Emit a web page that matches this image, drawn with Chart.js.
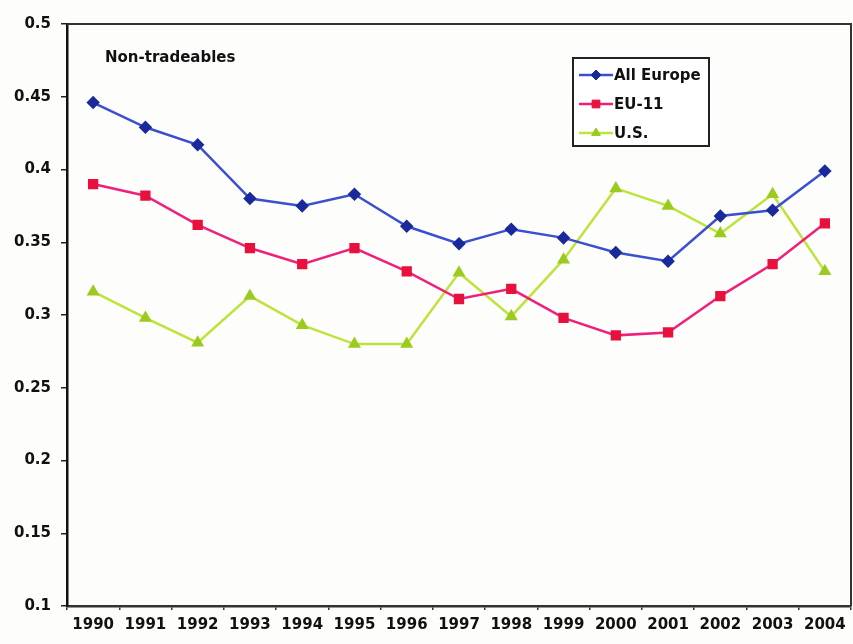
<!DOCTYPE html>
<html>
<head>
<meta charset="utf-8">
<script src="https://cdn.jsdelivr.net/npm/chart.js@4/dist/chart.umd.min.js"></script>
<style>
  html, body { margin: 0; padding: 0; background: #fdfdfc; }
  #wrap { width: 853px; height: 644px; position: relative; }
</style>
</head>
<body>
<div id="wrap"><canvas id="chart" width="853" height="644"></canvas></div>
<script>
const years = ["1990", "1991", "1992", "1993", "1994", "1995", "1996", "1997", "1998", "1999", "2000", "2001", "2002", "2003", "2004"];
const allEurope = [0.446, 0.429, 0.417, 0.380, 0.375, 0.383, 0.361, 0.349, 0.359, 0.353, 0.343, 0.337, 0.368, 0.372, 0.399];
const eu11 = [0.390, 0.382, 0.362, 0.346, 0.335, 0.346, 0.330, 0.311, 0.318, 0.298, 0.286, 0.288, 0.313, 0.335, 0.363];
const us = [0.316, 0.298, 0.281, 0.313, 0.293, 0.280, 0.280, 0.329, 0.299, 0.338, 0.387, 0.375, 0.356, 0.383, 0.330];
const seriesNames = ["All Europe", "EU-11", "U.S."];
const chartTitle = "Non-tradeables";

const FONT = "'DejaVu Sans', 'Liberation Sans', sans-serif";

// plot frame, caption and boxed legend (Excel style)
const frame = {
  id: "frame",
  afterDatasetsDraw(chart) {
    const { ctx, chartArea: a } = chart;
    ctx.save();
    ctx.strokeStyle = "#333";
    ctx.lineWidth = 2;
    ctx.beginPath();
    ctx.moveTo(a.left, a.top);
    ctx.lineTo(a.right, a.top);
    ctx.lineTo(a.right, a.bottom);
    ctx.stroke();

    ctx.fillStyle = "#111";
    ctx.font = "bold 15px " + FONT;
    ctx.textBaseline = "middle";
    ctx.textAlign = "left";
    ctx.fillText(chartTitle, 105, 58);

    // legend
    const bx = 573, by = 58, bw = 136, bh = 88;
    ctx.fillStyle = "#fff";
    ctx.fillRect(bx, by, bw, bh);
    ctx.strokeStyle = "#222";
    ctx.lineWidth = 2;
    ctx.strokeRect(bx, by, bw, bh);
    chart.data.datasets.forEach((ds, i) => {
      const y = by + 17 + i * 29;
      ctx.strokeStyle = ds.borderColor;
      ctx.lineWidth = 2.5;
      ctx.beginPath();
      ctx.moveTo(bx + 6, y);
      ctx.lineTo(bx + 40, y);
      ctx.stroke();
      ctx.fillStyle = ds.pointBackgroundColor;
      ctx.strokeStyle = ds.pointBorderColor;
      ctx.lineWidth = 1;
      Chart.helpers.drawPoint(ctx, { pointStyle: ds.pointStyle, radius: ds.pointRadius, borderWidth: 1 }, bx + 23, y);
      ctx.fillStyle = "#111";
      ctx.fillText(ds.label, bx + 41, y + 1);
    });
    ctx.restore();
  }
};

new Chart(document.getElementById("chart"), {
  type: "line",
  data: {
    labels: years,
    datasets: [
      {
        label: seriesNames[0], data: allEurope,
        borderColor: "#3a50d0", backgroundColor: "#1a2a9a",
        pointBackgroundColor: "#1a2a9a", pointBorderColor: "#1a2a9a",
        pointStyle: "rectRot", pointRadius: 5, borderWidth: 2.5
      },
      {
        label: seriesNames[1], data: eu11,
        borderColor: "#f0207a", backgroundColor: "#e8103c",
        pointBackgroundColor: "#e8103c", pointBorderColor: "#e8103c",
        pointStyle: "rect", pointRadius: 5.5, borderWidth: 2.5
      },
      {
        label: seriesNames[2], data: us,
        borderColor: "#bde43a", backgroundColor: "#9acb1e",
        pointBackgroundColor: "#9acb1e", pointBorderColor: "#9acb1e",
        pointStyle: "triangle", pointRadius: 5, borderWidth: 2.5
      }
    ]
  },
  options: {
    responsive: false,
    animation: false,
    layout: { autoPadding: false, padding: { top: 24, right: 2, left: 0, bottom: 0 } },
    plugins: { legend: { display: false }, tooltip: { enabled: false } },
    elements: { line: { tension: 0 } },
    scales: {
      x: {
        offset: true,
        grid: { offset: true, drawOnChartArea: false, drawTicks: true, tickLength: 4, color: "#333", lineWidth: 1.5 },
        border: { color: "#333", width: 2.5 },
        ticks: {
          color: "#111", autoSkip: false, maxRotation: 0, padding: 6,
          font: { family: FONT, weight: "bold", size: 15 }
        },
        afterFit(scale) {
          scale.height = 38;
          scale.paddingLeft = 0;
          scale.paddingRight = 0;
        }
      },
      y: {
        min: 0.1,
        max: 0.5,
        grid: { drawOnChartArea: false, drawTicks: true, tickLength: 6, color: "#222", lineWidth: 1.5 },
        border: { color: "#111", width: 2.5 },
        ticks: {
          stepSize: 0.05, color: "#111", padding: 10,
          font: { family: FONT, weight: "bold", size: 15 },
          callback: (v) => String(Number(v.toFixed(2)))
        },
        afterFit(scale) { scale.width = 67; }
      }
    }
  },
  plugins: [frame]
});
</script>
</body>
</html>
